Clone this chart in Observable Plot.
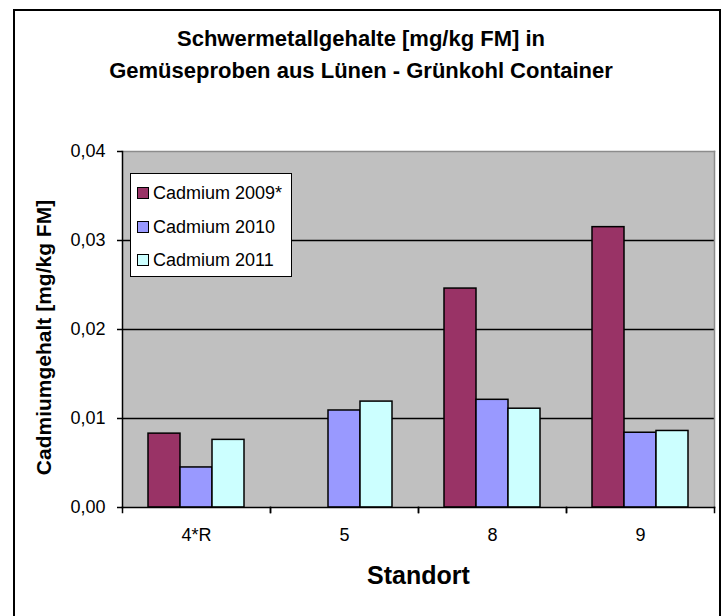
<!DOCTYPE html>
<html>
<head>
<meta charset="utf-8">
<script src="https://cdn.jsdelivr.net/npm/d3@7"></script>
<script src="https://cdn.jsdelivr.net/npm/@observablehq/plot@0.6"></script>
<style>
  body { margin: 0; background: #fff; }
  #wrap { position: relative; width: 722px; height: 616px; overflow: hidden; background: #fff;
          font-family: "Liberation Sans", Arial, sans-serif; }
  #border { position: absolute; left: 13px; top: 9px; width: 708px; height: 640px;
            border: 2px solid #000; box-sizing: border-box; }
  #title { position: absolute; left: 0; top: 23px; width: 722px; text-align: center;
           font-weight: bold; font-size: 22px; line-height: 32px; color: #000; }
  #chart { position: absolute; left: 0; top: 0; }
  #legend { position: absolute; left: 130px; top: 173px; width: 162px; height: 104px;
            background: #fff; border: 1px solid #000; box-sizing: border-box; }
  .lg-row { position: absolute; left: 6px; height: 20px; display: flex; align-items: center;
            font-size: 18px; color: #000; white-space: nowrap; }
  .lg-sw { width: 12px; height: 12px; border: 1px solid #000; box-sizing: border-box; margin-right: 4px; }
</style>
</head>
<body>
<div id="wrap">
  <div id="border"></div>
  <div id="title">Schwermetallgehalte [mg/kg FM] in<br>Gemüseproben aus Lünen - Grünkohl Container</div>
  <div id="chart"></div>
  <div id="legend"></div>
</div>
<script>
// ---- data ----
const standorte = ["4*R", "5", "8", "9"];
const serien = ["Cadmium 2009*", "Cadmium 2010", "Cadmium 2011"];
const cd2009 = [0.0083, null, 0.0246, 0.0315];
const cd2010 = [0.0045, 0.0109, 0.0121, 0.0084];
const cd2011 = [0.0076, 0.0119, 0.0111, 0.0086];
const farben = ["#993366", "#9999ff", "#ccffff"];
const yTicks = [0, 0.01, 0.02, 0.03, 0.04];
const yLabel = "Cadmiumgehalt [mg/kg FM]";
const xLabel = "Standort";

const werte = [cd2009, cd2010, cd2011];
const rows = [];
standorte.forEach((s, i) => {
  serien.forEach((serie, j) => {
    const v = werte[j][i];
    if (v != null) rows.push({standort: s, serie, wert: v});
  });
});

const fmt = d => d.toFixed(2).replace(".", ",");

const chart = Plot.plot({
  width: 722,
  height: 616,
  marginLeft: 122,
  marginRight: 8,
  marginTop: 151,
  marginBottom: 109,
  style: {fontFamily: "'Liberation Sans', Arial, sans-serif", fontSize: "18px", background: "transparent", color: "#000"},
  facet: {data: rows, x: "standort"},
  fx: {domain: standorte, padding: 0},
  x: {domain: serien, paddingInner: 0, paddingOuter: 0.75, axis: null},
  y: {domain: [0, 0.04]},
  color: {domain: serien, range: farben},
  marks: [
    Plot.frame({facet: "super", fill: "#c0c0c0", stroke: null}),
    Plot.gridY({ticks: yTicks.filter(t => t > 0 && t < 0.04), stroke: "#000", strokeOpacity: 1, strokeWidth: 1.4}),
    Plot.frame({facet: "super", anchor: "top", stroke: "#8c8c8c", strokeWidth: 1.5}),
    Plot.frame({facet: "super", anchor: "right", stroke: "#8c8c8c", strokeWidth: 1.5}),
    Plot.barY(rows, {x: "serie", y: "wert", fill: "serie", stroke: "#000", strokeWidth: 1.5}),
    Plot.frame({facet: "super", anchor: "left", stroke: "#000", strokeWidth: 1.5}),
    Plot.frame({facet: "super", anchor: "bottom", stroke: "#000", strokeWidth: 1.5}),
    Plot.frame({anchor: "left", stroke: "#000", strokeWidth: 1.5, insetTop: 356, insetBottom: -5}),
    Plot.frame({anchor: "right", stroke: "#000", strokeWidth: 1.5, insetTop: 356, insetBottom: -5}),
    Plot.axisY({ticks: yTicks, tickFormat: fmt, tickSize: 5, tickPadding: 12, strokeWidth: 1.5, fontSize: 18, label: null}),
    Plot.axisFx({anchor: "bottom", tickSize: 0, tickPadding: 21, fontSize: 18, label: null}),
    Plot.text([xLabel], {facet: "super", frameAnchor: "bottom", dy: 76, fontSize: 25, fontWeight: "bold"}),
    Plot.text([yLabel], {facet: "super", frameAnchor: "left", textAnchor: "middle", rotate: -90, dx: -78, dy: 8, fontSize: 21, fontWeight: "bold"})
  ]
});
document.getElementById("chart").appendChild(chart);

// ---- legend ----
const legend = document.getElementById("legend");
const rowTops = [9, 43, 76];
serien.forEach((s, i) => {
  const r = document.createElement("div");
  r.className = "lg-row";
  r.style.top = rowTops[i] + "px";
  const sw = document.createElement("div");
  sw.className = "lg-sw";
  sw.style.background = farben[i];
  const t = document.createElement("span");
  t.textContent = s;
  r.appendChild(sw);
  r.appendChild(t);
  legend.appendChild(r);
});
</script>
</body>
</html>
